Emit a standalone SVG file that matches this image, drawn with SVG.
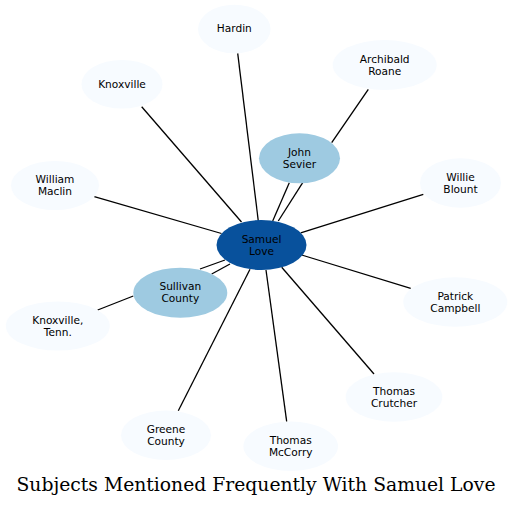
<svg xmlns="http://www.w3.org/2000/svg" width="513" height="507" viewBox="0 0 513 507">
<style>
.n text{font-family:"DejaVu Sans",sans-serif;font-size:10.6px;fill:#000;text-anchor:middle}
.light{fill:#f7fbff}
.mid{fill:#9ecae1}
.dark{fill:#08519c}
#edges line{stroke:#000;stroke-width:1.3}
.title{font-family:"DejaVu Serif",serif;font-size:18.5px;fill:#000;text-anchor:middle}
</style>
<rect width="513" height="507" fill="#fff"/>
<g id="edges">
<line x1="237.7" y1="53.3" x2="258.3" y2="221"/>
<line x1="141.7" y1="106.7" x2="241.5" y2="222"/>
<line x1="94.3" y1="196.7" x2="221.5" y2="233.5"/>
<line x1="423.3" y1="194.3" x2="300.7" y2="232.8"/>
<line x1="410.7" y1="288.3" x2="301.7" y2="255"/>
<line x1="374" y1="374" x2="281.7" y2="267.3"/>
<line x1="286.7" y1="421.7" x2="266" y2="270"/>
<line x1="178.3" y1="410.7" x2="250" y2="269.3"/>
<line x1="289.3" y1="182.7" x2="272.7" y2="221"/>
<line x1="302.7" y1="182.7" x2="278.3" y2="221"/>
<line x1="200" y1="269" x2="225" y2="260"/>
<line x1="211.7" y1="274" x2="230" y2="264"/>
<line x1="368.3" y1="89.3" x2="331.7" y2="142.7"/>
<line x1="97.7" y1="310" x2="133.3" y2="296"/>
</g>
<g id="samuel-love" class="n"><ellipse class="dark" cx="261.5" cy="245" rx="45" ry="25"/><text x="261.5" y="242.5">Samuel</text><text x="261.5" y="254.5">Love</text></g>
<g id="john-sevier" class="n"><ellipse class="mid" cx="299.5" cy="158.3" rx="40.5" ry="25"/><text x="299.5" y="156">John</text><text x="299.5" y="168">Sevier</text></g>
<g id="sullivan-county" class="n"><ellipse class="mid" cx="180.3" cy="292.7" rx="47" ry="25"/><text x="180.3" y="290.3">Sullivan</text><text x="180.3" y="302.3">County</text></g>
<g id="hardin" class="n"><ellipse class="light" cx="234.3" cy="29" rx="36.3" ry="24.3"/><text x="234.3" y="32.3">Hardin</text></g>
<g id="archibald-roane" class="n"><ellipse class="light" cx="384.7" cy="65" rx="52" ry="25"/><text x="384.7" y="62.5">Archibald</text><text x="384.7" y="74.5">Roane</text></g>
<g id="knoxville" class="n"><ellipse class="light" cx="122" cy="84.3" rx="40.5" ry="24.3"/><text x="122" y="87.6">Knoxville</text></g>
<g id="william-maclin" class="n"><ellipse class="light" cx="55" cy="185.5" rx="44" ry="24.5"/><text x="55" y="183">William</text><text x="55" y="195">Maclin</text></g>
<g id="willie-blount" class="n"><ellipse class="light" cx="460.5" cy="183" rx="40.5" ry="24.7"/><text x="460.5" y="180.5">Willie</text><text x="460.5" y="192.5">Blount</text></g>
<g id="patrick-campbell" class="n"><ellipse class="light" cx="455.3" cy="302" rx="52" ry="24.7"/><text x="455.3" y="299.5">Patrick</text><text x="455.3" y="311.5">Campbell</text></g>
<g id="knoxville-tenn" class="n"><ellipse class="light" cx="57.8" cy="326" rx="52" ry="24.5"/><text x="57.8" y="323.5">Knoxville,</text><text x="57.8" y="335.5">Tenn.</text></g>
<g id="greene-county" class="n"><ellipse class="light" cx="166" cy="435.3" rx="45" ry="24.7"/><text x="166" y="432.8">Greene</text><text x="166" y="444.8">County</text></g>
<g id="thomas-mccorry" class="n"><ellipse class="light" cx="290.7" cy="446.3" rx="47.3" ry="24.7"/><text x="290.7" y="443.8">Thomas</text><text x="290.7" y="455.8">McCorry</text></g>
<g id="thomas-crutcher" class="n"><ellipse class="light" cx="394" cy="397" rx="48.3" ry="24.7"/><text x="394" y="394.5">Thomas</text><text x="394" y="406.5">Crutcher</text></g>
<text class="title" x="256" y="491" textLength="479" lengthAdjust="spacingAndGlyphs">Subjects Mentioned Frequently With Samuel Love</text>
</svg>
